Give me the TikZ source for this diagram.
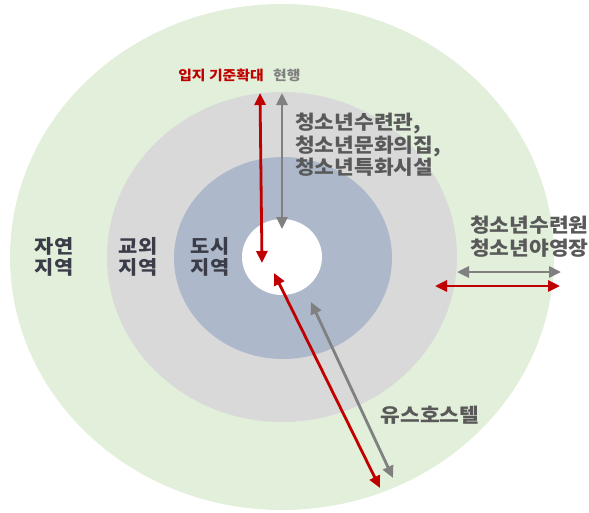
\documentclass[tikz,border=0pt]{standalone}
\usepackage{fontspec}
\setmainfont[FakeStretch=1.1]{Noto Sans CJK KR}
\usetikzlibrary{positioning,arrows.meta}
\definecolor{zonegreen}{HTML}{E2EFDA}
\definecolor{zonegray}{HTML}{D9D9D9}
\definecolor{zoneblue}{HTML}{ADB9CA}
\definecolor{arrowred}{HTML}{C00000}
\definecolor{arrowgray}{HTML}{808080}
\definecolor{labelgray}{HTML}{595959}
\definecolor{zonetext}{HTML}{3A3D48}
\tikzset{
 zonelabel/.style={font=\fontsize{19}{21}\selectfont\bfseries, text=zonetext, align=center, inner sep=0pt},
 facility/.style={font=\fontsize{19.5}{22.5}\selectfont\bfseries, text=labelgray, align=left, inner sep=0pt},
 redarrow/.style={<->, line width=2.8pt, arrowred},
 grayarrow/.style={<->, line width=2.8pt, arrowgray}
}
\begin{document}
\begin{tikzpicture}[x=1pt,y=-1pt,>={Triangle[length=12pt,width=11pt]}]
 \useasboundingbox (0,0) rectangle (589,512);
 % zones
 \fill[zonegreen] (282,257) ellipse [x radius=272pt, y radius=253pt];
 \fill[zonegray] (282,257) ellipse [x radius=175pt, y radius=165pt];
 \fill[zoneblue] (283,258) ellipse [x radius=109pt, y radius=101pt];
 \fill[white] (282,257) ellipse [x radius=40pt, y radius=38pt];
 \node[zonelabel] (nature) at (54,257) {자연\\지역};
 \node[zonelabel] (suburb) at (138,257) {교외\\지역};
 \node[zonelabel] (city) at (210,257) {도시\\지역};
 % arrow ends
 \coordinate (redTopA) at (260,93);
 \coordinate (redTopB) at (262,263);
 \coordinate (grayTopA) at (282,93);
 \coordinate (grayTopB) at (282,229);
 \coordinate (redRightA) at (435,286);
 \coordinate (redRightB) at (560,286);
 \coordinate (grayRightA) at (457,272);
 \coordinate (grayRightB) at (561,272);
 \coordinate (redDiagA) at (274,273);
 \coordinate (redDiagB) at (380,488);
 \coordinate (grayDiagA) at (311,302);
 \coordinate (grayDiagB) at (393,478);
 \draw[redarrow] (redTopA) -- (redTopB);
 \draw[grayarrow] (grayTopA) -- (grayTopB);
 \draw[grayarrow] (grayRightA) -- (grayRightB);
 \draw[redarrow] (redRightA) -- (redRightB);
 \draw[grayarrow] (grayDiagA) -- (grayDiagB);
 \draw[redarrow] (redDiagA) -- (redDiagB);
 % labels
 \node[font=\fontsize{13.5}{15}\selectfont\bfseries, text=arrowred, inner sep=0pt] (extended) at (221,75) {입지 기준확대};
 \node[font=\fontsize{13.5}{15}\selectfont\bfseries, text=arrowgray, inner sep=0pt, right=9pt of extended] (current) {현행};
 \node[facility, anchor=west] (center) at (295,145) {청소년수련관,\\청소년문화의집,\\청소년특화시설};
 \node[facility, anchor=west] (camp) at (470,236.5) {청소년수련원\\청소년야영장};
 \node[facility] (hostel) at (430,415) {유스호스텔};
\end{tikzpicture}
\end{document}
